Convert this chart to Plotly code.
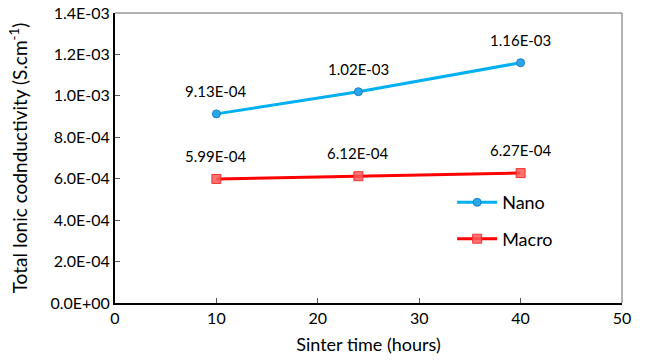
import plotly.graph_objects as go

sinter_time = [10, 24, 40]
nano = [9.13e-4, 1.02e-3, 1.16e-3]
macro = [5.99e-4, 6.12e-4, 6.27e-4]
nano_labels = ["9.13E-04", "1.02E-03", "1.16E-03"]
macro_labels = ["5.99E-04", "6.12E-04", "6.27E-04"]
y_tickvals = [0, 2e-4, 4e-4, 6e-4, 8e-4, 1e-3, 1.2e-3, 1.4e-3]
y_ticktext = ["0.0E+00", "2.0E-04", "4.0E-04", "6.0E-04", "8.0E-04", "1.0E-03", "1.2E-03", "1.4E-03"]
x_tickvals = [0, 10, 20, 30, 40, 50]

FONT = "Lato, Open Sans, sans-serif"

fig = go.Figure()
fig.add_trace(go.Scatter(
    x=sinter_time, y=nano, name="Nano", mode="lines+markers", legendgroup="a",
    line=dict(color="#00b0f0", width=3),
    marker=dict(symbol="circle", size=8, color="#2aa7e8", line=dict(color="#1a7fc8", width=1)),
))
fig.add_trace(go.Scatter(
    x=sinter_time, y=macro, name="Macro", mode="lines+markers", legendgroup="b",
    line=dict(color="#ff0000", width=3),
    marker=dict(symbol="square", size=9, color="rgba(255,90,90,0.85)", line=dict(color="#f03030", width=1)),
))

for xs, ys, labs in [(sinter_time, nano, nano_labels), (sinter_time, macro, macro_labels)]:
    for x, y, t in zip(xs, ys, labs):
        fig.add_annotation(x=x, y=y, text=t, showarrow=False, yshift=23,
                           font=dict(family=FONT, size=15, color="#000"))

fig.update_layout(
    width=645, height=362,
    margin=dict(l=115, r=23, t=13, b=59, autoexpand=False),
    paper_bgcolor="white", plot_bgcolor="white",
    font=dict(family=FONT, size=16, color="#000"),
    showlegend=True,
    legend=dict(x=0.665, y=0.41, xanchor="left", yanchor="top", bgcolor="rgba(0,0,0,0)",
                font=dict(family=FONT, size=18), itemwidth=40, tracegroupgap=10),
    xaxis=dict(range=[0, 50], tickvals=x_tickvals, ticks="inside", ticklen=5, tickcolor="#555",
               showline=True, linecolor="black", linewidth=2, mirror=False, showgrid=False, zeroline=False,
               automargin=False,
               title=dict(text="Sinter time (hours)", font=dict(family=FONT, size=18), standoff=12),
               tickfont=dict(family=FONT, size=16)),
    yaxis=dict(range=[0, 1.4e-3], tickvals=y_tickvals, ticktext=y_ticktext, ticks="inside", ticklen=5,
               tickcolor="#555", showline=True, linecolor="black", linewidth=2, showgrid=False, zeroline=False,
               automargin=False,
               title=dict(text="Total Ionic codnductivity (S.cm<sup>-1</sup>)", font=dict(family=FONT, size=19), standoff=18),
               tickfont=dict(family=FONT, size=16)),
    shapes=[
        dict(type="line", xref="paper", yref="paper", x0=0, x1=1, y0=1, y1=1, line=dict(color="#666", width=1)),
        dict(type="line", xref="paper", yref="paper", x0=1, x1=1, y0=0, y1=1, line=dict(color="#666", width=1)),
    ],
)

fig.write_html("out.html", config={"displayModeBar": False},
               post_script="document.body.style.margin='0';")
